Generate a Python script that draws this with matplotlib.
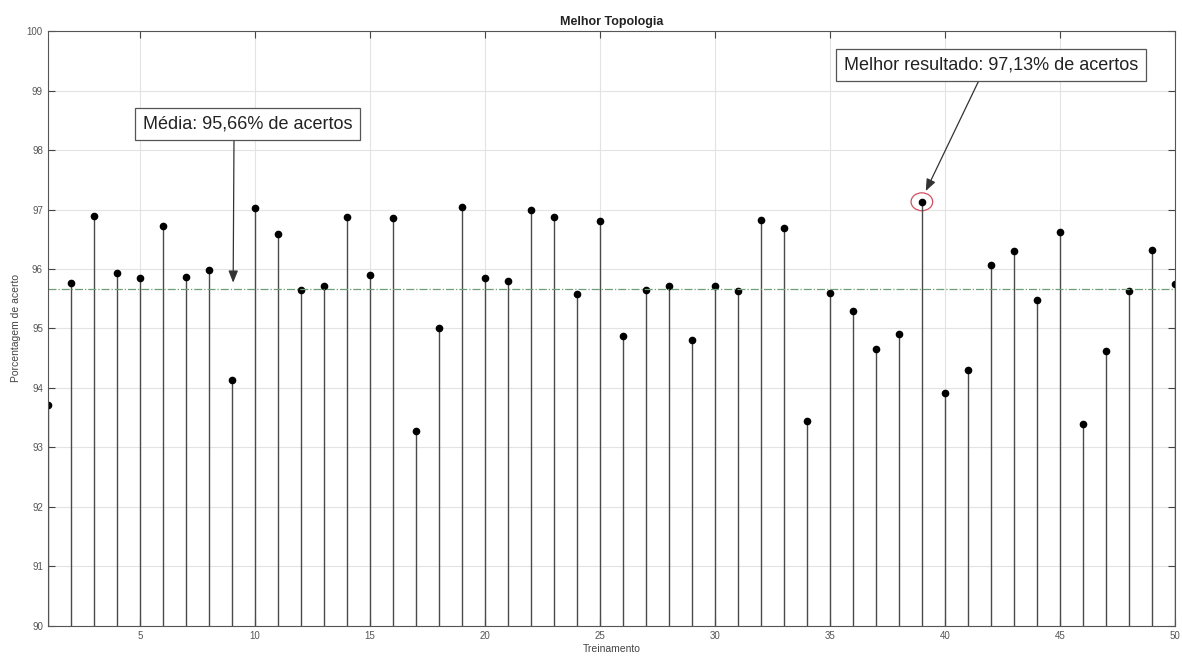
import matplotlib.pyplot as plt
from matplotlib.patches import Ellipse
import numpy as np

plt.rcParams['font.family'] = ['Liberation Sans', 'DejaVu Sans']

treinamento = np.arange(1, 51)
acerto = [93.71, 95.76, 96.89, 95.93, 95.85, 96.73, 95.87, 95.98, 94.13, 97.02,
          96.58, 95.65, 95.72, 96.87, 95.90, 96.85, 93.27, 95.00, 97.04, 95.85,
          95.80, 96.99, 96.88, 95.58, 96.80, 94.88, 95.65, 95.72, 94.80, 95.71,
          95.63, 96.83, 96.69, 93.44, 95.59, 95.30, 94.66, 94.91, 97.13, 93.92,
          94.31, 96.07, 96.30, 95.48, 96.63, 93.39, 94.62, 95.63, 96.32, 95.75]
media = 95.66
melhor_idx = 39
melhor = 97.13

fig = plt.figure(figsize=(11.82, 6.57), dpi=100)
ax = fig.add_axes([0.0404, 0.0472, 0.9536, 0.9056])

# stems
ml, sl, bl = ax.stem(treinamento, acerto, linefmt='-', markerfmt='o', basefmt=' ', bottom=90)
plt.setp(sl, color='#4a4a4a', linewidth=1.0)
plt.setp(ml, color='black', markersize=4.5)

# linha da media
ax.axhline(media, color='#6f9f78', linestyle='-.', linewidth=0.9)

ax.set_xlim(1, 50)
ax.set_ylim(90, 100)
ax.set_xticks(np.arange(5, 51, 5))
ax.set_yticks(np.arange(90, 101, 1))
ax.grid(True, color='#e3e3e3', linewidth=0.8)
ax.set_axisbelow(True)
ax.tick_params(direction='in', top=True, right=True, length=5, width=0.8,
               labelsize=7, labelcolor='#555555', color='#444444')
for s in ax.spines.values():
    s.set_color('#555555')
    s.set_linewidth(0.8)

ax.set_title('Melhor Topologia', fontsize=9, fontweight='bold', color='#222222', pad=4)
ax.set_xlabel('Treinamento', fontsize=7.5, color='#444444', labelpad=2)
ax.set_ylabel('Porcentagem de acerto', fontsize=7.5, color='#444444', labelpad=4)

box = dict(boxstyle='square,pad=0.42', fc='white', ec='#555555', lw=0.9)
seta = dict(arrowstyle='-|>,head_length=0.55,head_width=0.22', color='#333333', lw=0.9,
            shrinkA=0, shrinkB=0)
ax.annotate('Média: 95,66% de acertos', xy=(9.06, 95.77), xytext=(9.69, 98.44),
            ha='center', va='center', fontsize=13, color='#222222', bbox=box,
            arrowprops=dict(seta, relpos=(0.435, 0.0)))
ax.annotate('Melhor resultado: 97,13% de acertos', xy=(39.17, 97.31), xytext=(42.01, 99.43),
            ha='center', va='center', fontsize=13, color='#222222', bbox=box,
            arrowprops=dict(seta, relpos=(0.47, 0.0)))

ax.add_patch(Ellipse((melhor_idx, melhor), 0.94, 0.30, fill=False, ec='#d05060', lw=0.9))

fig.savefig('out.png', dpi=100)
